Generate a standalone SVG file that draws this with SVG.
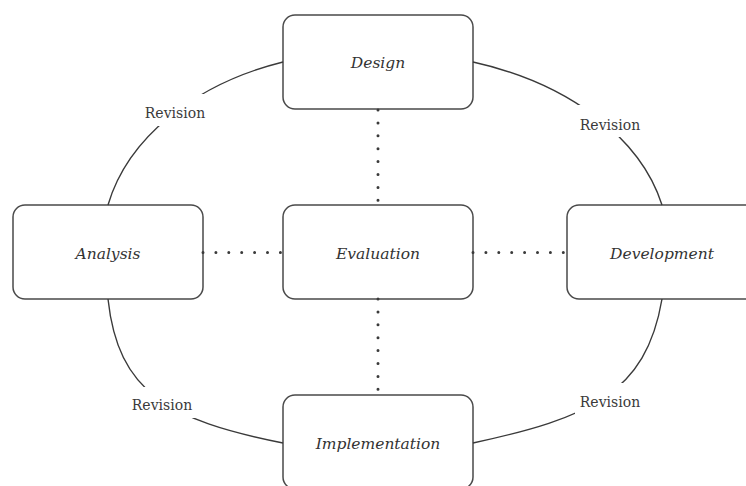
<svg xmlns="http://www.w3.org/2000/svg" width="746" height="486" viewBox="0 0 746 486">
  <style>
    .box { fill: #ffffff; stroke: #4a4a4a; stroke-width: 1.5; }
    .lbl { font-family: "DejaVu Serif", "Liberation Serif", serif; font-style: italic; font-size: 15.5px; fill: #333333; text-anchor: middle; }
    .rev { font-family: "DejaVu Serif", "Liberation Serif", serif; font-size: 14px; fill: #3a3a3a; text-anchor: middle; }
    .curve { fill: none; stroke: #3a3a3a; stroke-width: 1.4; }
    .dots { fill: none; stroke: #3a3a3a; stroke-width: 3; stroke-linecap: round; stroke-dasharray: 0 12.9; }
    .bg { fill: #ffffff; stroke: none; }
  </style>
  <rect width="746" height="486" fill="#ffffff"/>

  <g id="node-design">
    <rect class="box" x="283" y="15" width="190" height="94" rx="12"/>
    <text class="lbl" x="378" y="68">Design</text>
  </g>
  <g id="node-analysis">
    <rect class="box" x="13" y="205" width="190" height="94" rx="12"/>
    <text class="lbl" x="108" y="259">Analysis</text>
  </g>
  <g id="node-evaluation">
    <rect class="box" x="283" y="205" width="190" height="94" rx="12"/>
    <text class="lbl" x="378" y="259">Evaluation</text>
  </g>
  <g id="node-development">
    <rect class="box" x="567" y="205" width="190" height="94" rx="12"/>
    <text class="lbl" x="662" y="259">Development</text>
  </g>
  <g id="node-implementation">
    <rect class="box" x="283" y="395" width="190" height="94" rx="12"/>
    <text class="lbl" x="378" y="449">Implementation</text>
  </g>

  <g id="connectors">
    <path class="curve" d="M283 62 A 268 194 0 0 0 108 205"/>
    <path class="curve" d="M473 62 A 282 194 0 0 1 662 205"/>
    <path class="curve" d="M662 299 C646 394 588 418 473 443"/>
    <path class="curve" d="M108 299 C118 392 168 420 283 443"/>

    <path class="dots" d="M203 252.5 H283"/>
    <path class="dots" d="M473 252.5 H567"/>
    <path class="dots" d="M378 110 V205"/>
    <path class="dots" d="M378 299 V395"/>

    <g id="label-revision-tl">
      <rect class="bg" x="140" y="94" width="71" height="32"/>
      <text class="rev" x="175" y="118">Revision</text>
    </g>
    <g id="label-revision-tr">
      <rect class="bg" x="575" y="105" width="70" height="32"/>
      <text class="rev" x="610" y="130">Revision</text>
    </g>
    <g id="label-revision-bl">
      <rect class="bg" x="127" y="387" width="70" height="31"/>
      <text class="rev" x="162" y="410">Revision</text>
    </g>
    <g id="label-revision-br">
      <rect class="bg" x="575" y="383" width="70" height="31"/>
      <text class="rev" x="610" y="407">Revision</text>
    </g>
  </g>
</svg>
